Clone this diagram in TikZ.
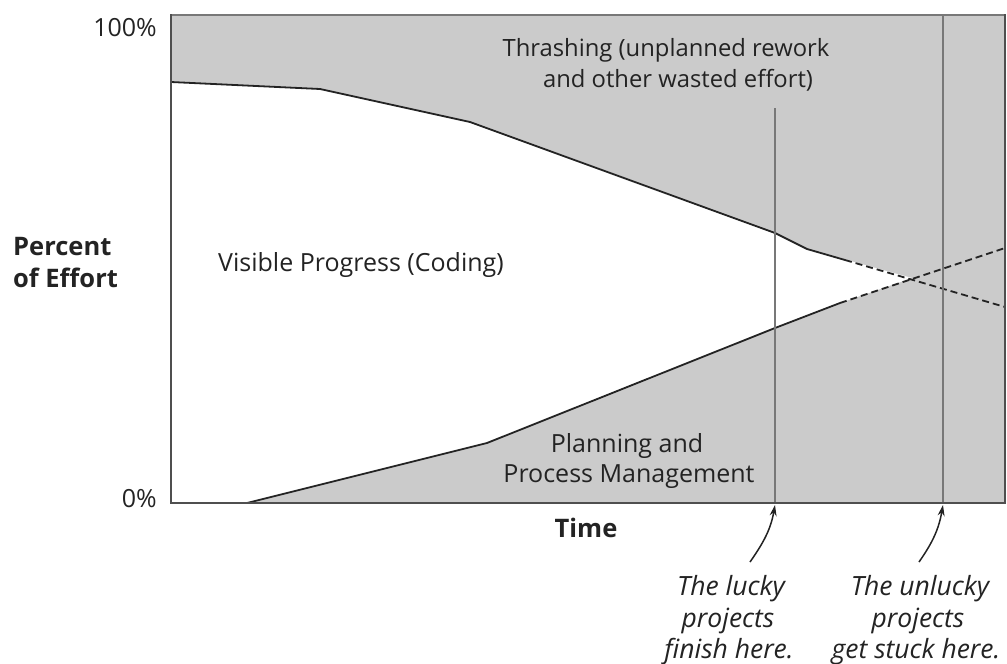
\documentclass[tikz,border=0pt]{standalone}
\usepackage{fontspec}
\setmainfont{Open Sans}
\usetikzlibrary{arrows.meta}
\definecolor{bandgray}{RGB}{203,203,203}
\definecolor{ink}{RGB}{35,35,35}
\definecolor{rule}{RGB}{120,120,120}
\begin{document}
\begin{tikzpicture}[x=1pt,y=-1pt,
  curve/.style={line width=1.8pt, ink, line join=round},
  dashcurve/.style={curve, dash pattern=on 7pt off 4pt},
  marker/.style={line width=2.4pt, rule},
  txt/.style={font=\fontsize{25}{30}\selectfont, text=ink, inner sep=0pt, anchor=base},
  boldtxt/.style={txt, font=\fontsize{25.5}{30}\selectfont\bfseries},
  note/.style={txt, font=\fontsize{26.5}{31}\selectfont\itshape},
  pointer/.style={line width=1.5pt, ink, -{Stealth[length=11pt,width=7pt]}}
]
\useasboundingbox (0,0) rectangle (1007,664);

% frame corners
\coordinate (TL) at (171,15);
\coordinate (BR) at (1005,503);

% upper boundary of the coding band
\coordinate (u0) at (171,82);
\coordinate (u1) at (320,89);
\coordinate (u2) at (470,122);
\coordinate (u3) at (775,233);
\coordinate (u4) at (807,249);
\coordinate (u5) at (845,260);
\coordinate (u6) at (1005,307);
% lower boundary (planning)
\coordinate (l0) at (247,503);
\coordinate (l1) at (487,443);
\coordinate (l2) at (775,328);
\coordinate (l3) at (840,303);
\coordinate (l4) at (1005,248);
% crossing point of the two extrapolations
\coordinate (X) at (912,278);

% grey background and white coding band
\fill[bandgray] (TL) rectangle (BR);
\fill[white] (u0) -- (u1) -- (u2) -- (u3) -- (u4) -- (X) -- (l3) -- (l2) -- (l1) -- (l0) -- (171,503) -- cycle;

% boundary curves
\draw[curve] (u0) -- (u1) -- (u2) -- (u3) -- (u4) -- (u5);
\draw[dashcurve] (u5) -- (u6);
\draw[curve] (l0) -- (l1) -- (l2) -- (l3);
\draw[dashcurve] (l3) -- (l4);

% finishing lines
\coordinate (luckytop) at (775,108);
\coordinate (luckyfoot) at (775,503);
\coordinate (unluckytop) at (943,15);
\coordinate (unluckyfoot) at (943,503);
\draw[marker] (luckytop) -- (luckyfoot);
\draw[marker] (unluckytop) -- (unluckyfoot);

% frame
\draw[line width=1.2pt, rule] (TL) -- (BR |- TL);
\draw[line width=2.2pt, ink!80, line cap=rect] (TL) -- (TL |- BR) -- (BR) -- (BR |- TL);

% axis labels
\node[txt, anchor=base east] (full) at (157,36) {100\%};
\node[txt, anchor=base east] (zero) at (157,507) {0\%};
\node[boldtxt, anchor=base west] (ylabA) at (13,255) {Percent};
\node[boldtxt, anchor=base west] (ylabB) at (13,287) {of Effort};
\node[boldtxt] (xlab) at (586,537) {Time};

% region labels
\node[txt, anchor=base west] (coding) at (218,271) {Visible Progress (Coding)};
\node[txt, font=\fontsize{23.8}{30}\selectfont] (thrashA) at (666,56) {Thrashing (unplanned rework};
\node[txt, font=\fontsize{23.8}{30}\selectfont] (thrashB) at (678,87) {and other wasted effort)};
\node[txt] (planA) at (627,452) {Planning and};
\node[txt] (planB) at (629,482) {Process Management};

% notes
\node[note] (luckyA) at (731,595) {The lucky};
\node[note] (luckyB) at (728,627) {projects};
\node[note] (luckyC) at (729,658) {finish here.};
\node[note] (unluckyA) at (920,595) {The unlucky};
\node[note] (unluckyB) at (918,627) {projects};
\node[note] (unluckyC) at (916,658) {get stuck here.};

% pointers
\coordinate (luckytail) at (750,562);
\coordinate (unluckytail) at (919,562);
\coordinate (luckytip) at (775,505);
\coordinate (unluckytip) at (943,505);
\draw[pointer] (luckytail) to[out=55, in=-100] (luckytip);
\draw[pointer] (unluckytail) to[out=55, in=-100] (unluckytip);
\end{tikzpicture}
\end{document}
